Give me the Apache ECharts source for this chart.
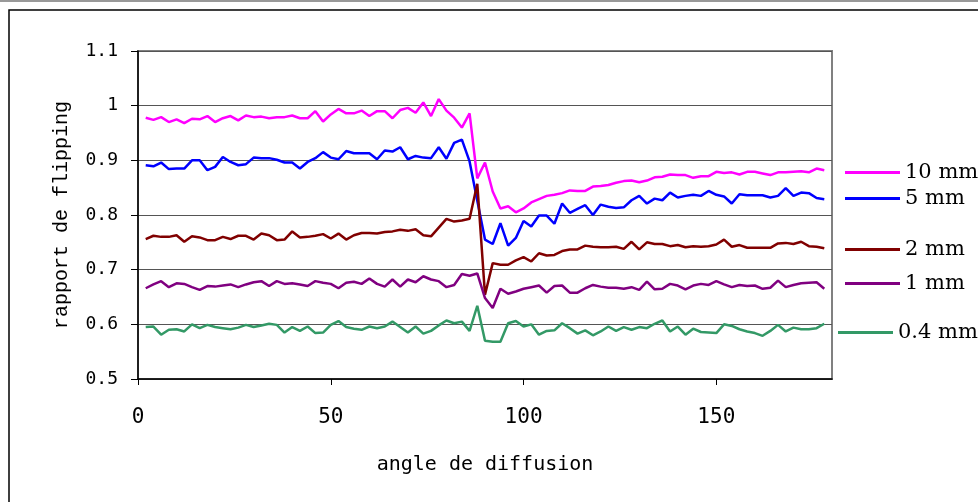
<!DOCTYPE html>
<html>
<head>
<meta charset="utf-8">
<script src="https://cdn.jsdelivr.net/npm/echarts@6/dist/echarts.min.js"></script>
<style>
    html, body { margin: 0; padding: 0; background: #fff; }
    #flipChart { width: 978px; height: 502px; }
</style>
</head>
<body>
<div id="flipChart"></div>
<script>
// angles de diffusion (degrés)
var angles = [2, 4, 6, 8, 10, 12, 14, 16, 18, 20, 22, 24, 26, 28, 30, 32, 34, 36, 38, 40,
    42, 44, 46, 48, 50, 52, 54, 56, 58, 60, 62, 64, 66, 68, 70, 72, 74, 76, 78, 80,
    82, 84, 86, 88, 90, 92, 94, 96, 98, 100, 102, 104, 106, 108, 110, 112, 114, 116, 118, 120,
    122, 124, 126, 128, 130, 132, 134, 136, 138, 140, 142, 144, 146, 148, 150, 152, 154, 156, 158, 160,
    162, 164, 166, 168, 170, 172, 174, 176, 178];

var seriesNames = ['10 mm', '5 mm', '2 mm', '1 mm', '0.4 mm'];
var seriesColors = ['#ff00ff', '#0000ff', '#800000', '#800080', '#339966'];

var flip10mm = [0.978, 0.974, 0.979, 0.970, 0.975, 0.968, 0.976, 0.975, 0.981, 0.970,
    0.977, 0.981, 0.973, 0.982, 0.979, 0.980, 0.977, 0.979, 0.979, 0.982,
    0.977, 0.977, 0.990, 0.971, 0.984, 0.994, 0.986, 0.986, 0.991, 0.981,
    0.990, 0.990, 0.977, 0.992, 0.996, 0.987, 1.006, 0.981, 1.012, 0.991,
    0.978, 0.960, 0.986, 0.867, 0.896, 0.843, 0.812, 0.816, 0.805, 0.812,
    0.823, 0.829, 0.835, 0.837, 0.840, 0.845, 0.844, 0.844, 0.852, 0.853,
    0.855, 0.859, 0.862, 0.863, 0.860, 0.863, 0.869, 0.870, 0.874, 0.873,
    0.873, 0.868, 0.871, 0.871, 0.879, 0.877, 0.878, 0.874, 0.879, 0.879,
    0.876, 0.873, 0.878, 0.878, 0.879, 0.880, 0.878, 0.885, 0.882];

var flip5mm = [0.891, 0.889, 0.896, 0.884, 0.885, 0.885, 0.900, 0.900, 0.882, 0.888,
    0.906, 0.897, 0.891, 0.893, 0.905, 0.904, 0.904, 0.901, 0.896, 0.896,
    0.885, 0.897, 0.904, 0.915, 0.905, 0.902, 0.917, 0.913, 0.913, 0.913,
    0.902, 0.918, 0.916, 0.924, 0.902, 0.908, 0.905, 0.904, 0.924, 0.903,
    0.932, 0.938, 0.898, 0.826, 0.755, 0.747, 0.785, 0.744, 0.758, 0.789,
    0.779, 0.799, 0.799, 0.784, 0.821, 0.804, 0.811, 0.818, 0.800, 0.819,
    0.815, 0.813, 0.814, 0.827, 0.835, 0.821, 0.830, 0.827, 0.841, 0.832,
    0.835, 0.837, 0.835, 0.844, 0.837, 0.834, 0.821, 0.838, 0.836, 0.836,
    0.836, 0.832, 0.835, 0.849, 0.835, 0.841, 0.840, 0.831, 0.829];

var flip2mm = [0.756, 0.762, 0.760, 0.760, 0.763, 0.751, 0.761, 0.759, 0.754, 0.754,
    0.760, 0.756, 0.762, 0.762, 0.755, 0.766, 0.763, 0.754, 0.755, 0.770,
    0.759, 0.760, 0.762, 0.765, 0.757, 0.766, 0.755, 0.763, 0.767, 0.767,
    0.766, 0.769, 0.770, 0.773, 0.771, 0.774, 0.763, 0.761, 0.777, 0.793,
    0.788, 0.790, 0.793, 0.857, 0.654, 0.712, 0.709, 0.709, 0.717, 0.723,
    0.715, 0.730, 0.726, 0.727, 0.734, 0.737, 0.737, 0.744, 0.742, 0.741,
    0.741, 0.742, 0.738, 0.751, 0.737, 0.750, 0.747, 0.747, 0.743, 0.745,
    0.741, 0.743, 0.742, 0.743, 0.746, 0.755, 0.742, 0.745, 0.740, 0.740,
    0.740, 0.740, 0.748, 0.749, 0.747, 0.751, 0.743, 0.742, 0.739];

var flip1mm = [0.666, 0.673, 0.679, 0.668, 0.675, 0.674, 0.668, 0.663, 0.670, 0.669,
    0.671, 0.673, 0.668, 0.673, 0.677, 0.679, 0.670, 0.679, 0.674, 0.675,
    0.673, 0.670, 0.679, 0.676, 0.674, 0.666, 0.676, 0.678, 0.674, 0.684,
    0.674, 0.669, 0.682, 0.669, 0.682, 0.677, 0.688, 0.682, 0.679, 0.668,
    0.672, 0.692, 0.689, 0.693, 0.648, 0.630, 0.665, 0.656, 0.660, 0.665,
    0.668, 0.671, 0.658, 0.670, 0.671, 0.658, 0.658, 0.666, 0.672, 0.669,
    0.667, 0.667, 0.665, 0.668, 0.663, 0.678, 0.664, 0.665, 0.674, 0.671,
    0.664, 0.671, 0.674, 0.672, 0.679, 0.673, 0.668, 0.672, 0.670, 0.671,
    0.665, 0.667, 0.680, 0.668, 0.672, 0.675, 0.676, 0.677, 0.665];

var flip04mm = [0.595, 0.596, 0.581, 0.590, 0.591, 0.587, 0.600, 0.593, 0.599, 0.595,
    0.593, 0.591, 0.594, 0.599, 0.595, 0.598, 0.601, 0.599, 0.585, 0.595,
    0.588, 0.596, 0.584, 0.585, 0.599, 0.606, 0.595, 0.592, 0.590, 0.596,
    0.593, 0.596, 0.605, 0.595, 0.585, 0.596, 0.583, 0.588, 0.598, 0.607,
    0.602, 0.605, 0.588, 0.634, 0.570, 0.568, 0.568, 0.602, 0.606, 0.596,
    0.600, 0.581, 0.588, 0.589, 0.602, 0.593, 0.583, 0.589, 0.580, 0.587,
    0.596, 0.588, 0.595, 0.590, 0.595, 0.593, 0.601, 0.607, 0.587, 0.596,
    0.581, 0.592, 0.586, 0.585, 0.584, 0.600, 0.597, 0.591, 0.587, 0.584,
    0.579, 0.588, 0.599, 0.587, 0.594, 0.591, 0.591, 0.593, 0.601];

// graduations des axes
var xTicks = [0, 50, 100, 150];
var yTicks = [0.5, 0.6, 0.7, 0.8, 0.9, 1.0, 1.1];

var allValues = [flip10mm, flip5mm, flip2mm, flip1mm, flip04mm];
// position verticale des libellés de légende (à droite du graphe)
var legendTops = [157, 183, 234, 268, 317];

function toPairs(vals) {
    var out = [];
    for (var i = 0; i < angles.length; i++) {
        out.push([angles[i], vals[i]]);
    }
    return out;
}

var flipChart = echarts.init(document.getElementById('flipChart'));

var series = [];
var legends = [];
for (var i = 0; i < seriesNames.length; i++) {
    series.push({
        name: seriesNames[i],
        type: 'line',
        showSymbol: false,
        symbol: 'none',
        color: seriesColors[i],
        lineStyle: {width: 2.5, color: seriesColors[i]},
        data: toPairs(allValues[i])
    });
    legends.push({
        data: [seriesNames[i]],
        left: i == 4 ? 833 : 840,
        top: legendTops[i],
        icon: 'rect',
        itemWidth: 55,
        itemHeight: 3,
        selectedMode: false,
        textStyle: {
            fontFamily: 'DejaVu Serif',
            fontSize: 21,
            color: '#000'
        }
    });
}

var option = {
    animation: false,
    backgroundColor: '#fff',
    legend: legends,
    grid: {
        left: 138,
        right: 146,
        top: 51,
        bottom: 123,
        show: true,
        borderColor: '#808080',
        borderWidth: 2
    },
    xAxis: {
        type: 'value',
        min: 0,
        max: 180,
        name: 'angle de diffusion',
        nameLocation: 'middle',
        nameGap: 76,
        nameTextStyle: {fontFamily: 'DejaVu Sans Mono', fontSize: 20, color: '#000'},
        axisLine: {lineStyle: {color: '#000', width: 1.5}},
        axisTick: {customValues: xTicks, length: 6, lineStyle: {color: '#000'}},
        axisLabel: {
            customValues: xTicks,
            margin: 28,
            fontFamily: 'DejaVu Sans Mono',
            fontSize: 21,
            color: '#000'
        },
        splitLine: {show: false}
    },
    yAxis: {
        type: 'value',
        min: 0.5,
        max: 1.1,
        interval: 0.1,
        name: 'rapport de flipping',
        nameLocation: 'middle',
        nameGap: 66,
        nameTextStyle: {fontFamily: 'Liberation Mono', fontSize: 20, color: '#000'},
        axisLine: {show: true, lineStyle: {color: '#000', width: 1.5}},
        axisTick: {show: true, length: 7, lineStyle: {color: '#000'}},
        axisLabel: {
            customValues: yTicks,
            margin: 20,
            fontFamily: 'DejaVu Sans Mono',
            fontSize: 18,
            color: '#000',
            formatter: function (v) {
                return String(+v.toFixed(1));
            }
        },
        splitLine: {show: true, lineStyle: {color: '#555', width: 1.2}}
    },
    graphic: [{
        type: 'rect',
        shape: {x: 9, y: 10, width: 1000, height: 1000},
        style: {fill: 'none', stroke: '#000', lineWidth: 1.5},
        silent: true
    }, {
        type: 'line',
        shape: {x1: 0, y1: 1, x2: 978, y2: 1},
        style: {stroke: '#999', lineWidth: 2},
        silent: true
    }],
    series: series
};
flipChart.setOption(option);
</script>
</body>
</html>
